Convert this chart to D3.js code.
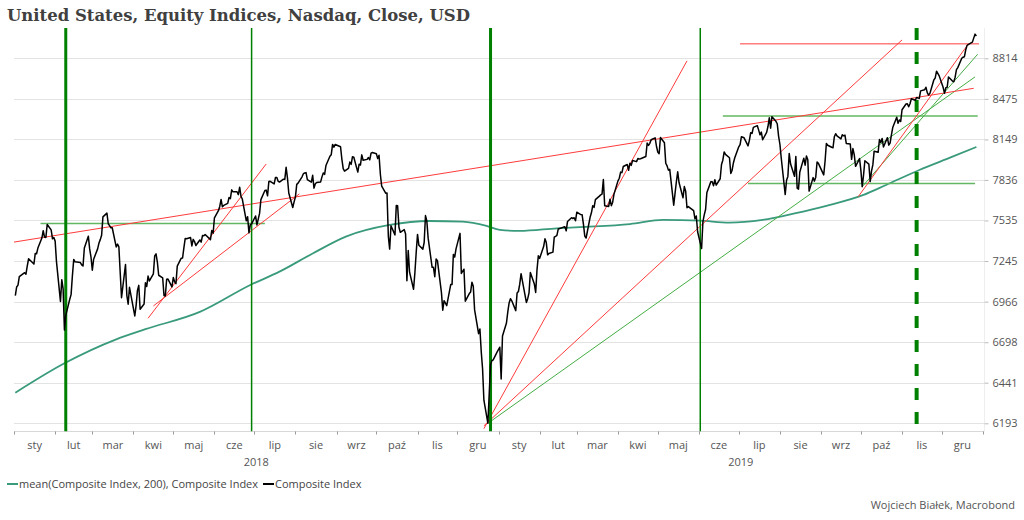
<!DOCTYPE html>
<html><head><meta charset="utf-8">
<script src="https://cdn.jsdelivr.net/npm/d3@7"></script>
<style>body{margin:0;background:#fff}</style>
</head><body>
<svg id="c" width="1024" height="520"></svg>
<script>
const chartTitle = "United States, Equity Indices, Nasdaq, Close, USD";
const yTicks = [6193, 6441, 6698, 6966, 7245, 7535, 7836, 8149, 8475, 8814];
const monthLabels = ["sty","lut","mar","kwi","maj","cze","lip","sie","wrz","paź","lis","gru"];
const years = [2018, 2019];
const seriesNames = ["mean(Composite Index, 200), Composite Index", "Composite Index"];
const credit = "Wojciech Białek, Macrobond";

const composite = [
["2018-01-02",7006.90],["2018-01-03",7065.53],["2018-01-04",7077.91],["2018-01-05",7136.56],["2018-01-08",7157.39],["2018-01-09",7163.58],["2018-01-10",7153.57],["2018-01-11",7211.78],["2018-01-12",7261.06],["2018-01-16",7223.69],["2018-01-17",7298.28],["2018-01-18",7296.05],["2018-01-19",7336.38],["2018-01-22",7408.03],["2018-01-23",7460.29],["2018-01-24",7415.06],["2018-01-25",7411.16],["2018-01-26",7505.77],["2018-01-29",7466.51],["2018-01-30",7402.48],["2018-01-31",7411.48],
["2018-02-01",7385.86],["2018-02-02",7240.95],["2018-02-05",6967.53],["2018-02-06",7115.88],["2018-02-07",7051.98],["2018-02-08",6777.16],["2018-02-09",6874.49],["2018-02-12",6981.96],["2018-02-13",7013.51],["2018-02-14",7143.62],["2018-02-15",7256.43],["2018-02-16",7239.47],["2018-02-20",7234.31],["2018-02-21",7218.23],["2018-02-22",7210.09],["2018-02-23",7337.39],["2018-02-26",7421.46],["2018-02-27",7330.35],["2018-02-28",7273.01],
["2018-03-01",7180.56],["2018-03-02",7257.87],["2018-03-05",7330.70],["2018-03-06",7372.01],["2018-03-07",7396.65],["2018-03-08",7427.95],["2018-03-09",7560.81],["2018-03-12",7588.32],["2018-03-13",7511.01],["2018-03-14",7496.81],["2018-03-15",7481.74],["2018-03-16",7481.99],["2018-03-19",7344.24],["2018-03-20",7364.30],["2018-03-21",7345.29],["2018-03-22",7166.68],["2018-03-23",6992.67],["2018-03-26",7220.54],["2018-03-27",7008.81],["2018-03-28",6949.23],["2018-03-29",7063.45],
["2018-04-02",6870.12],["2018-04-03",6941.28],["2018-04-04",7042.11],["2018-04-05",7076.55],["2018-04-06",6915.11],["2018-04-09",6950.34],["2018-04-10",7094.30],["2018-04-11",7069.03],["2018-04-12",7140.25],["2018-04-13",7106.65],["2018-04-16",7156.28],["2018-04-17",7281.10],["2018-04-18",7295.24],["2018-04-19",7238.06],["2018-04-20",7146.13],["2018-04-23",7128.60],["2018-04-24",7007.35],["2018-04-25",7003.74],["2018-04-26",7118.68],["2018-04-27",7119.80],["2018-04-30",7066.27],
["2018-05-01",7130.70],["2018-05-02",7100.90],["2018-05-03",7088.15],["2018-05-04",7209.62],["2018-05-07",7265.21],["2018-05-08",7266.90],["2018-05-09",7339.91],["2018-05-10",7404.98],["2018-05-11",7402.88],["2018-05-14",7411.32],["2018-05-15",7351.63],["2018-05-16",7398.30],["2018-05-17",7382.47],["2018-05-18",7354.34],["2018-05-21",7394.04],["2018-05-22",7378.46],["2018-05-23",7425.96],["2018-05-24",7424.43],["2018-05-25",7433.85],["2018-05-29",7396.59],["2018-05-30",7462.45],["2018-05-31",7442.12],
["2018-06-01",7554.33],["2018-06-04",7606.46],["2018-06-05",7637.86],["2018-06-06",7689.24],["2018-06-07",7635.07],["2018-06-08",7645.51],["2018-06-11",7659.93],["2018-06-12",7703.79],["2018-06-13",7695.70],["2018-06-14",7761.04],["2018-06-15",7746.38],["2018-06-18",7747.03],["2018-06-19",7725.59],["2018-06-20",7781.52],["2018-06-21",7712.95],["2018-06-22",7692.82],["2018-06-25",7532.01],["2018-06-26",7561.63],["2018-06-27",7445.08],["2018-06-28",7503.68],["2018-06-29",7510.30],
["2018-07-02",7567.69],["2018-07-03",7502.67],["2018-07-05",7586.43],["2018-07-06",7688.39],["2018-07-09",7756.20],["2018-07-10",7759.20],["2018-07-11",7716.61],["2018-07-12",7823.92],["2018-07-13",7825.98],["2018-07-16",7805.72],["2018-07-17",7855.12],["2018-07-18",7854.44],["2018-07-19",7825.30],["2018-07-20",7820.20],["2018-07-23",7841.87],["2018-07-24",7840.77],["2018-07-25",7932.24],["2018-07-26",7852.18],["2018-07-27",7737.42],["2018-07-30",7630.00],["2018-07-31",7671.79],
["2018-08-01",7707.29],["2018-08-02",7802.69],["2018-08-03",7812.01],["2018-08-06",7859.68],["2018-08-07",7883.66],["2018-08-08",7888.33],["2018-08-09",7891.78],["2018-08-10",7839.11],["2018-08-13",7819.71],["2018-08-14",7870.89],["2018-08-15",7774.12],["2018-08-16",7806.52],["2018-08-17",7816.33],["2018-08-20",7821.01],["2018-08-21",7859.17],["2018-08-22",7889.10],["2018-08-23",7878.46],["2018-08-24",7945.98],["2018-08-27",8017.90],["2018-08-28",8030.04],["2018-08-29",8109.69],["2018-08-30",8088.36],["2018-08-31",8109.54],
["2018-09-04",8091.25],["2018-09-05",7995.17],["2018-09-06",7922.73],["2018-09-07",7902.54],["2018-09-10",7924.16],["2018-09-11",7972.47],["2018-09-12",7954.23],["2018-09-13",8013.71],["2018-09-14",8010.04],["2018-09-17",7895.79],["2018-09-18",7956.11],["2018-09-19",7950.04],["2018-09-20",8028.23],["2018-09-21",7986.96],["2018-09-24",7993.25],["2018-09-25",8007.47],["2018-09-26",7990.37],["2018-09-27",8041.97],["2018-09-28",8046.35],
["2018-10-01",8037.30],["2018-10-02",7999.55],["2018-10-03",8025.09],["2018-10-04",7879.51],["2018-10-05",7788.45],["2018-10-08",7735.95],["2018-10-09",7738.02],["2018-10-10",7422.05],["2018-10-11",7329.06],["2018-10-12",7496.89],["2018-10-15",7430.74],["2018-10-16",7645.49],["2018-10-17",7642.70],["2018-10-18",7485.14],["2018-10-19",7449.03],["2018-10-22",7468.63],["2018-10-23",7437.54],["2018-10-24",7108.40],["2018-10-25",7318.34],["2018-10-26",7167.21],["2018-10-29",7050.29],["2018-10-30",7161.65],["2018-10-31",7305.90],
["2018-11-01",7434.06],["2018-11-02",7356.99],["2018-11-05",7328.85],["2018-11-06",7375.96],["2018-11-07",7570.75],["2018-11-08",7530.88],["2018-11-09",7406.90],["2018-11-12",7200.87],["2018-11-13",7200.87],["2018-11-14",7136.39],["2018-11-15",7259.03],["2018-11-16",7247.87],["2018-11-19",7028.48],["2018-11-20",6908.82],["2018-11-21",6972.25],["2018-11-23",6938.98],["2018-11-26",7081.85],["2018-11-27",7082.70],["2018-11-28",7291.59],["2018-11-29",7273.08],["2018-11-30",7330.54],
["2018-12-03",7441.51],["2018-12-04",7158.43],["2018-12-06",7188.26],["2018-12-07",6969.25],["2018-12-10",7020.52],["2018-12-11",7031.83],["2018-12-12",7098.31],["2018-12-13",7070.33],["2018-12-14",6910.67],["2018-12-17",6753.73],["2018-12-18",6783.91],["2018-12-19",6636.83],["2018-12-20",6528.41],["2018-12-21",6332.99],["2018-12-24",6192.92],["2018-12-26",6554.36],["2018-12-27",6579.49],["2018-12-28",6584.52],["2018-12-31",6635.28],
["2019-01-02",6665.94],["2019-01-03",6463.50],["2019-01-04",6738.86],["2019-01-07",6823.47],["2019-01-08",6897.00],["2019-01-09",6957.08],["2019-01-10",6986.07],["2019-01-11",6971.48],["2019-01-14",6905.92],["2019-01-15",7023.83],["2019-01-16",7034.69],["2019-01-17",7084.46],["2019-01-18",7157.23],["2019-01-22",6960.65],["2019-01-23",6986.14],["2019-01-24",7025.77],["2019-01-25",7164.86],["2019-01-28",7085.68],["2019-01-29",7028.29],["2019-01-30",7183.08],["2019-01-31",7281.74],
["2019-02-01",7263.87],["2019-02-04",7347.54],["2019-02-05",7402.08],["2019-02-06",7375.28],["2019-02-07",7288.35],["2019-02-08",7298.20],["2019-02-11",7307.90],["2019-02-12",7414.62],["2019-02-13",7420.38],["2019-02-14",7426.95],["2019-02-15",7472.41],["2019-02-19",7486.77],["2019-02-20",7489.07],["2019-02-21",7459.71],["2019-02-22",7527.54],["2019-02-25",7554.46],["2019-02-26",7549.30],["2019-02-27",7554.51],["2019-02-28",7532.53],
["2019-03-01",7595.35],["2019-03-04",7577.57],["2019-03-05",7576.36],["2019-03-06",7505.92],["2019-03-07",7421.46],["2019-03-08",7408.14],["2019-03-11",7558.06],["2019-03-12",7591.03],["2019-03-13",7643.41],["2019-03-14",7630.91],["2019-03-15",7688.53],["2019-03-18",7714.48],["2019-03-19",7723.95],["2019-03-20",7728.97],["2019-03-21",7838.96],["2019-03-22",7642.67],["2019-03-25",7637.54],["2019-03-26",7691.52],["2019-03-27",7643.38],["2019-03-28",7669.17],["2019-03-29",7729.32],
["2019-04-01",7828.91],["2019-04-02",7848.69],["2019-04-03",7895.55],["2019-04-04",7891.78],["2019-04-05",7938.69],["2019-04-08",7953.88],["2019-04-09",7909.28],["2019-04-10",7964.24],["2019-04-11",7947.36],["2019-04-12",7984.16],["2019-04-15",7976.01],["2019-04-16",8000.23],["2019-04-17",7996.08],["2019-04-18",7998.06],["2019-04-22",8015.27],["2019-04-23",8120.82],["2019-04-24",8102.01],["2019-04-25",8118.68],["2019-04-26",8146.40],["2019-04-29",8161.85],["2019-04-30",8095.39],
["2019-05-01",8049.64],["2019-05-02",8036.77],["2019-05-03",8164.00],["2019-05-06",8123.29],["2019-05-07",7963.76],["2019-05-08",7943.32],["2019-05-09",7910.59],["2019-05-10",7916.94],["2019-05-13",7647.02],["2019-05-14",7734.49],["2019-05-15",7822.15],["2019-05-16",7898.05],["2019-05-17",7816.28],["2019-05-20",7702.38],["2019-05-21",7785.72],["2019-05-22",7750.84],["2019-05-23",7628.28],["2019-05-24",7637.01],["2019-05-28",7607.35],["2019-05-29",7547.31],["2019-05-30",7567.72],["2019-05-31",7453.15],
["2019-06-03",7333.02],["2019-06-04",7527.12],["2019-06-05",7575.48],["2019-06-06",7615.55],["2019-06-07",7742.10],["2019-06-10",7823.17],["2019-06-11",7822.57],["2019-06-12",7792.72],["2019-06-13",7837.13],["2019-06-14",7796.66],["2019-06-17",7845.02],["2019-06-18",7953.88],["2019-06-19",7987.32],["2019-06-20",8051.34],["2019-06-21",8031.71],["2019-06-24",8005.70],["2019-06-25",7884.72],["2019-06-26",7909.97],["2019-06-27",7967.76],["2019-06-28",8006.24],
["2019-07-01",8091.16],["2019-07-02",8109.09],["2019-07-03",8170.23],["2019-07-05",8161.79],["2019-07-08",8098.38],["2019-07-09",8141.73],["2019-07-10",8202.53],["2019-07-11",8196.04],["2019-07-12",8244.14],["2019-07-15",8258.19],["2019-07-16",8222.80],["2019-07-17",8185.21],["2019-07-18",8207.24],["2019-07-19",8146.49],["2019-07-22",8204.14],["2019-07-23",8251.40],["2019-07-24",8321.50],["2019-07-25",8238.54],["2019-07-26",8330.21],["2019-07-29",8293.33],["2019-07-30",8273.61],["2019-07-31",8175.42],
["2019-08-01",8111.12],["2019-08-02",8004.07],["2019-08-05",7726.04],["2019-08-06",7833.27],["2019-08-07",7862.83],["2019-08-08",8039.16],["2019-08-09",7959.14],["2019-08-12",7863.41],["2019-08-13",8016.36],["2019-08-14",7773.94],["2019-08-15",7766.62],["2019-08-16",7895.99],["2019-08-19",8002.81],["2019-08-20",7948.56],["2019-08-21",8020.21],["2019-08-22",7991.39],["2019-08-23",7751.77],["2019-08-26",7853.74],["2019-08-27",7826.95],["2019-08-28",7856.88],["2019-08-29",7973.39],["2019-08-30",7962.88],
["2019-09-03",7874.16],["2019-09-04",7976.88],["2019-09-05",8116.83],["2019-09-06",8103.07],["2019-09-09",8087.44],["2019-09-10",8084.16],["2019-09-11",8169.68],["2019-09-12",8194.47],["2019-09-13",8176.71],["2019-09-16",8153.54],["2019-09-17",8186.02],["2019-09-18",8177.39],["2019-09-19",8182.88],["2019-09-20",8117.67],["2019-09-23",8112.46],["2019-09-24",7993.63],["2019-09-25",8077.38],["2019-09-26",8030.66],["2019-09-27",7939.63],["2019-09-30",7999.34],
["2019-10-01",7908.68],["2019-10-02",7785.25],["2019-10-03",7872.26],["2019-10-04",7982.47],["2019-10-07",7956.29],["2019-10-08",7823.78],["2019-10-09",7903.74],["2019-10-10",7950.78],["2019-10-11",8057.04],["2019-10-14",8048.65],["2019-10-15",8148.71],["2019-10-16",8124.18],["2019-10-17",8156.85],["2019-10-18",8089.54],["2019-10-21",8162.99],["2019-10-22",8104.30],["2019-10-23",8119.79],["2019-10-24",8185.80],["2019-10-25",8243.12],["2019-10-28",8325.99],["2019-10-29",8276.85],["2019-10-30",8303.98],["2019-10-31",8292.36],
["2019-11-01",8386.40],["2019-11-04",8433.20],["2019-11-05",8434.68],["2019-11-06",8410.63],["2019-11-07",8434.52],["2019-11-08",8475.31],["2019-11-11",8464.28],["2019-11-12",8486.09],["2019-11-13",8482.10],["2019-11-14",8479.02],["2019-11-15",8540.83],["2019-11-18",8549.94],["2019-11-19",8570.66],["2019-11-20",8526.73],["2019-11-21",8506.21],["2019-11-22",8519.89],["2019-11-25",8632.49],["2019-11-26",8647.93],["2019-11-27",8705.18],["2019-11-29",8665.47],
["2019-12-02",8567.99],["2019-12-03",8520.64],["2019-12-04",8566.67],["2019-12-05",8570.70],["2019-12-06",8656.53],["2019-12-09",8621.83],["2019-12-10",8616.18],["2019-12-11",8654.05],["2019-12-12",8717.32],["2019-12-13",8734.88],["2019-12-16",8814.23],["2019-12-17",8823.36],["2019-12-18",8827.74],["2019-12-19",8887.22],["2019-12-20",8924.96],["2019-12-23",8945.65],["2019-12-24",8952.88],["2019-12-26",9022.39],["2019-12-27",9006.62]
];

const ma200 = [
["2018-01-02",6379],["2018-02-08",6563],["2018-03-19",6717],["2018-04-10",6783],["2018-05-21",6897],["2018-06-28",7079],["2018-07-20",7171],["2018-08-14",7298],["2018-09-08",7418],["2018-10-11",7502],["2018-11-10",7531],["2018-12-05",7526],["2018-12-23",7495],["2019-01-02",7466],["2019-01-17",7459],["2019-02-14",7478],["2019-03-03",7487],["2019-04-10",7509],["2019-05-05",7539],["2019-06-02",7533],["2019-06-24",7519],["2019-07-19",7539],["2019-08-13",7588],["2019-09-05",7642],["2019-10-03",7723],["2019-10-20",7798],["2019-11-14",7912],["2019-12-09",8014],["2019-12-27",8090]
];

// trend lines: [startDate, startValue, endDate, endValue]
const redTrendLines = [
["2018-01-01",7379,"2019-12-25",8562],
["2019-07-02",8938,"2019-12-29",8938],
["2018-12-21",6161,"2019-05-23",8792],
["2018-12-21",6178,"2019-11-01",8972],
["2018-04-12",6855,"2018-07-10",7958],
["2018-04-16",6937,"2018-08-04",7731],
["2019-09-29",7710,"2019-12-21",8938]
];
const greenTrendLines = [
["2018-12-24",6193,"2019-12-26",8657],
["2019-10-02",7785,"2019-12-28",8849]
];
const greenLevelLines = [
["2018-01-21",7513,"2018-07-09",7513],
["2019-06-19",8336,"2019-12-28",8336],
["2019-07-08",7809,"2019-12-26",7809]
];
const thickMarkers = ["2018-02-09","2018-12-26"];
const thinMarkers = ["2018-06-29","2019-06-02"];
const dashedMarkers = ["2019-11-12"];

const parse = d3.utcParse("%Y-%m-%d");
const svg = d3.select("#c");
const font = "'Open Sans', 'Noto Sans', sans-serif";

const plotTop = 28, axisY = 431.5, left = 14, right = 984;
const x = d3.scaleUtc().domain([Date.UTC(2018,0,1), Date.UTC(2020,0,1)]).range([14, 983]);
const y = d3.scaleLog().domain([6193, 8814]).range([423.3, 58.3]);

// title
svg.append("text").attr("x", 7).attr("y", 21)
  .attr("font-family", "'DejaVu Serif', 'Liberation Serif', serif")
  .attr("font-weight", "bold").attr("font-size", 17).attr("fill", "#404040")
  .attr("textLength", 463).attr("lengthAdjust", "spacingAndGlyphs")
  .text(chartTitle);

// grid
const grid = svg.append("g");
yTicks.forEach(t => {
  grid.append("line").attr("x1", left).attr("x2", right)
    .attr("y1", Math.round(y(t)) + 0.5).attr("y2", Math.round(y(t)) + 0.5)
    .attr("stroke", "#e3e3e3").attr("stroke-width", 1);
});

// right axis
const yAxis = d3.axisRight(y).tickValues(yTicks).tickFormat(d3.format("d")).tickSize(4).tickPadding(4);
const ya = svg.append("g").attr("transform", `translate(${right + 0.5},0)`).call(yAxis);
ya.select(".domain").attr("stroke", "#eeeeee").attr("d", `M0,${plotTop}V${axisY}`);
ya.selectAll(".tick line").attr("stroke", "#bbbbbb");
ya.selectAll(".tick text").attr("font-family", font).attr("font-size", 11).attr("fill", "#555");

// x axis
const months = d3.utcMonth.range(Date.UTC(2018,0,1), Date.UTC(2020,0,2));
const xa = svg.append("g");
xa.append("line").attr("x1", left).attr("x2", right).attr("y1", axisY).attr("y2", axisY)
  .attr("stroke", "#d8d8d8");
months.forEach(m => {
  xa.append("line").attr("x1", Math.round(x(m)) + 0.5).attr("x2", Math.round(x(m)) + 0.5)
    .attr("y1", axisY).attr("y2", axisY + 3).attr("stroke", "#999");
});
months.slice(0, 24).forEach(m => {
  const mid = new Date((+m + +d3.utcMonth.offset(m, 1)) / 2);
  xa.append("text").attr("x", x(mid)).attr("y", 449).attr("text-anchor", "middle")
    .attr("font-family", font).attr("font-size", 11).attr("fill", "#555")
    .text(monthLabels[m.getUTCMonth()]);
});
years.forEach(yr => {
  const mid = new Date((Date.UTC(yr,0,1) + Date.UTC(yr+1,0,1)) / 2);
  xa.append("text").attr("x", x(mid)).attr("y", 466).attr("text-anchor", "middle")
    .attr("font-family", font).attr("font-size", 11).attr("fill", "#555").text(yr);
});

// clip
svg.append("clipPath").attr("id", "clip").append("rect")
  .attr("x", left).attr("y", plotTop).attr("width", right - left + 1).attr("height", axisY - plotTop);
const plot = svg.append("g").attr("clip-path", "url(#clip)");

const line = d3.line().x(d => x(parse(d[0]))).y(d => y(d[1]));

// MA
plot.append("path").datum(ma200).attr("d", line.curve(d3.curveMonotoneX))
  .attr("fill", "none").attr("stroke", "#3a9a7c").attr("stroke-width", 1.8);

// level lines
greenLevelLines.forEach(l => {
  plot.append("line").attr("x1", x(parse(l[0]))).attr("y1", y(l[1]))
    .attr("x2", x(parse(l[2]))).attr("y2", y(l[3]))
    .attr("stroke", "#62b862").attr("stroke-width", 1.4);
});
greenTrendLines.forEach(l => {
  plot.append("line").attr("x1", x(parse(l[0]))).attr("y1", y(l[1]))
    .attr("x2", x(parse(l[2]))).attr("y2", y(l[3]))
    .attr("stroke", "#45ad45").attr("stroke-width", 1);
});
redTrendLines.forEach(l => {
  plot.append("line").attr("x1", x(parse(l[0]))).attr("y1", y(l[1]))
    .attr("x2", x(parse(l[2]))).attr("y2", y(l[3]))
    .attr("stroke", "#ff3b3b").attr("stroke-width", 1);
});

// markers
thickMarkers.forEach(d => {
  plot.append("line").attr("x1", x(parse(d))).attr("x2", x(parse(d)))
    .attr("y1", plotTop).attr("y2", axisY).attr("stroke", "#008000").attr("stroke-width", 3);
});
thinMarkers.forEach(d => {
  plot.append("line").attr("x1", x(parse(d))).attr("x2", x(parse(d)))
    .attr("y1", plotTop).attr("y2", axisY).attr("stroke", "#008000").attr("stroke-width", 1.5);
});
dashedMarkers.forEach(d => {
  plot.append("line").attr("x1", x(parse(d))).attr("x2", x(parse(d)))
    .attr("y1", plotTop).attr("y2", axisY).attr("stroke", "#008000").attr("stroke-width", 4)
    .attr("stroke-dasharray", "12,12");
});

// composite
plot.append("path").datum(composite).attr("d", d3.line().x(d => x(parse(d[0]))).y(d => y(d[1])))
  .attr("fill", "none").attr("stroke", "#000").attr("stroke-width", 1.5).attr("stroke-linejoin", "round");

// legend
const lg = svg.append("g");
lg.append("line").attr("x1", 7).attr("x2", 18).attr("y1", 484).attr("y2", 484).attr("stroke", "#3a9a7c").attr("stroke-width", 2);
lg.append("text").attr("x", 19).attr("y", 488).attr("font-family", font).attr("font-size", 11).attr("fill", "#444").text(seriesNames[0]);
lg.append("line").attr("x1", 263).attr("x2", 274).attr("y1", 484).attr("y2", 484).attr("stroke", "#000").attr("stroke-width", 2);
lg.append("text").attr("x", 275).attr("y", 488).attr("font-family", font).attr("font-size", 11).attr("fill", "#444").text(seriesNames[1]);

svg.append("text").attr("x", 1015).attr("y", 509).attr("text-anchor", "end")
  .attr("font-family", font).attr("font-size", 11).attr("fill", "#555").text(credit);
</script>
</body></html>
